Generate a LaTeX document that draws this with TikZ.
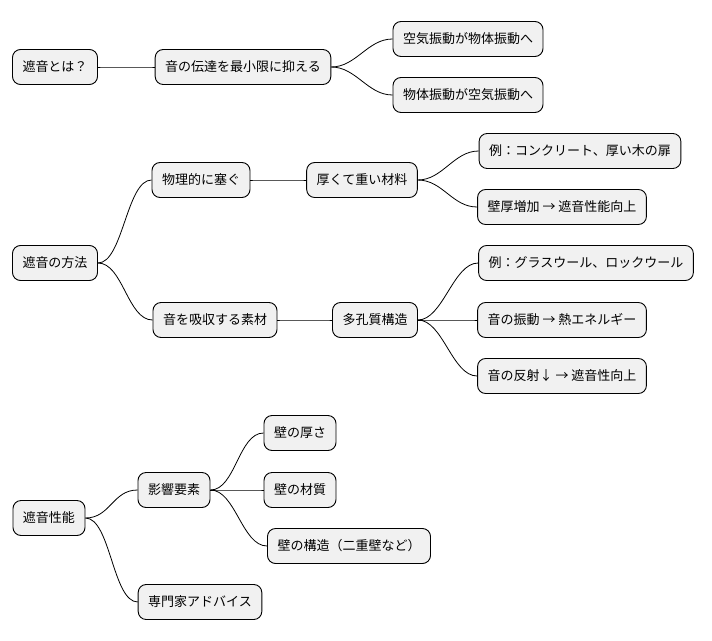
\documentclass[tikz,border=0pt]{standalone}
\usepackage{fontspec}
\setmainfont{Noto Sans CJK JP}
\usetikzlibrary{positioning}
\definecolor{boxfill}{HTML}{F1F1F1}

\begin{document}
\begin{tikzpicture}[x=1pt,y=-1pt,thick,
  topic/.style={draw,rounded corners=8pt,fill=boxfill,minimum height=35pt,
    inner xsep=10pt,font=\fontsize{13}{15}\selectfont,line width=0.9pt},
  branch/.style={line width=0.8pt}]
  \useasboundingbox (0,0) rectangle (712,640);

  % sound insulation
  \node[topic] (what) at (55,67) {遮音とは？};
  \node[topic] (limit) at (243,67) {音の伝達を最小限に抑える};
  \node[topic] (air) at (468,39) {空気振動が物体振動へ};
  \node[topic] (solid) at (468,95) {物体振動が空気振動へ};

  % methods
  \node[topic] (method) at (55,263) {遮音の方法};
  \node[topic] (block) at (201,180) {物理的に塞ぐ};
  \node[topic] (heavy) at (362,180) {厚くて重い材料};
  \node[topic] (ex1) at (580,151) {例：コンクリート、厚い木の扉};
  \node[topic] (thick) at (562,207) {壁厚増加 → 遮音性能向上};
  \node[topic] (absorb) at (215,320) {音を吸収する素材};
  \node[topic] (porous) at (375,320) {多孔質構造};
  \node[topic] (ex2) at (586,263) {例：グラスウール、ロックウール};
  \node[topic] (heat) at (562,320) {音の振動 → 熱エネルギー};
  \node[topic] (refl) at (562,376) {音の反射↓ → 遮音性向上};

  % performance
  \node[topic] (perf) at (49,518) {遮音性能};
  \node[topic] (factor) at (174,490) {影響要素};
  \node[topic] (wthick) at (300,433) {壁の厚さ};
  \node[topic] (wmat) at (300,490) {壁の材質};
  \node[topic] (wstruct) at (349,546) {壁の構造（二重壁など）};
  \node[topic] (expert) at (200,602) {専門家アドバイス};

  \foreach \a/\b in {what/limit,limit/air,limit/solid,
      method/block,block/heavy,heavy/ex1,heavy/thick,
      method/absorb,absorb/porous,porous/ex2,porous/heat,porous/refl,
      perf/factor,factor/wthick,factor/wmat,factor/wstruct,perf/expert}
    \draw[branch] (\a.east) .. controls +(25,0) and +(-25,0) .. (\b.west);
\end{tikzpicture}
\end{document}
